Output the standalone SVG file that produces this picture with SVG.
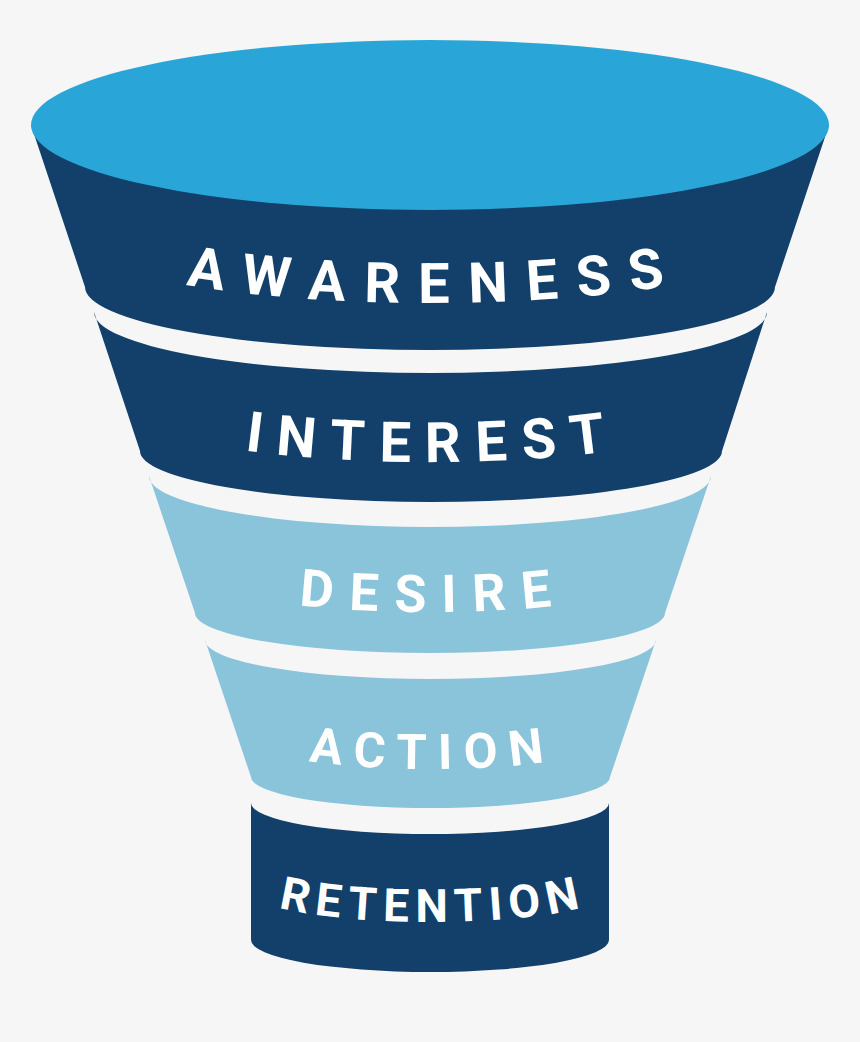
<svg xmlns="http://www.w3.org/2000/svg" width="860" height="1042" viewBox="0 0 860 1042">
  <style>
    .dark { fill: #12406a; }
    .light { fill: #8ac4da; }
    .top { fill: #29a6d7; }
    .lbl { fill: #ffffff; font-family: Roboto, "Liberation Sans", sans-serif; font-weight: 700; text-anchor: middle; }
  </style>
  <defs>
    <path id="p1" d="M 85,240 A 345,63 0 0 0 775,240"/>
    <path id="p2" d="M 139,411 A 291,51 0 0 0 721,411"/>
    <path id="p3" d="M 195,572 A 235,40 0 0 0 665,572"/>
    <path id="p4" d="M 250,738 A 180,31 0 0 0 610,738"/>
    <path id="p5" d="M 251,891 A 179,31 0 0 0 609,891"/>
  </defs>
  <rect x="0" y="0" width="860" height="1042" fill="#f6f6f6"/>

  <g id="awareness">
    <path class="dark" d="M 31,125 L 85,287 A 345,63 0 0 0 775,287 L 829,125 Z"/>
    <ellipse class="top" cx="430" cy="125" rx="399" ry="85"/>
    <text class="lbl" font-size="56" letter-spacing="19"><textPath href="#p1" startOffset="50.7%">AWARENESS</textPath></text>
  </g>

  <g id="interest">
    <path class="dark" d="M 94,312 L 140,451 A 291,51 0 0 0 722,451 L 767,312 A 336.5,61 0 0 1 94,312 Z"/>
    <text class="lbl" font-size="56" letter-spacing="15"><textPath href="#p2" startOffset="50.5%">INTEREST</textPath></text>
  </g>

  <g id="desire">
    <path class="light" d="M 149,476 L 195,613 A 235,40 0 0 0 665,613 L 711,476 A 281,51 0 0 1 149,476 Z"/>
    <text class="lbl" font-size="52" letter-spacing="16"><textPath href="#p3" startOffset="50.7%">DESIRE</textPath></text>
  </g>

  <g id="action">
    <path class="light" d="M 205,640 L 251,777 A 179.5,31 0 0 0 610,777 L 656,640 A 225.5,39 0 0 1 205,640 Z"/>
    <text class="lbl" font-size="49" letter-spacing="12"><textPath href="#p4" startOffset="50.7%">ACTION</textPath></text>
  </g>

  <g id="retention">
    <path class="dark" d="M 251,803 L 251,940 A 179,32 0 0 0 609,940 L 609,803 A 179,31 0 0 1 251,803 Z"/>
    <text class="lbl" font-size="46" letter-spacing="7"><textPath href="#p5" startOffset="50.8%">RETENTION</textPath></text>
  </g>
</svg>
